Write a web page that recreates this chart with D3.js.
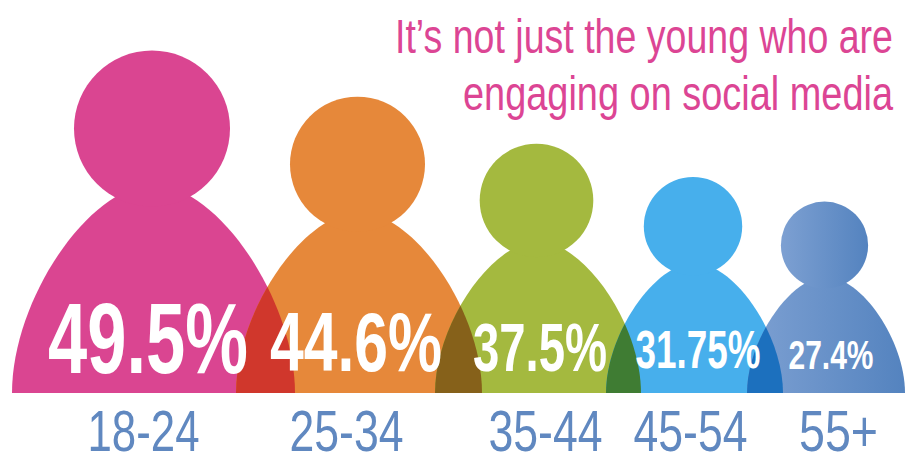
<!DOCTYPE html>
<html>
<head>
<meta charset="utf-8">
<script src="https://cdn.jsdelivr.net/npm/d3@7"></script>
<style>
  html, body { margin: 0; padding: 0; background: #fff; overflow: hidden; }
  text { font-family: "Liberation Sans Narrow", "Liberation Sans", sans-serif; }
</style>
</head>
<body>
<script>
// values
const ages = ["18-24", "25-34", "35-44", "45-54", "55+"];
const shares = [49.5, 44.6, 37.5, 31.75, 27.4];
const colors = ["#da4591", "#e6883a", "#a4b93f", "#47afec", "url(#steel)"];
const overlapColors = ["#d0372c", "#86611a", "#3f7c33", "#1c70be"];
const titleLines = ["It\u2019s not just the young who are", "engaging on social media"];

const w = 906;
const h = 462;
const baseline = 393;

// the figures are not evenly spaced, so the scales are measured per figure
const xPerson = d3.scaleOrdinal(ages, [153.5, 359, 538, 694.5, 826]);
const xTick = d3.scaleOrdinal(ages, [143, 346, 545, 690, 838]);
const xLabel = d3.scaleOrdinal(ages, [148, 356, 540, 698, 831]);
const headR = d3.scaleLinear().domain([27.4, 31.75, 37.5, 44.6, 49.5]).range([43.6, 49.2, 56.8, 67.5, 78]);
const bodyA = d3.scaleLinear().domain([27.4, 31.75, 37.5, 44.6, 49.5]).range([79, 88.5, 103, 123, 141.5]);
const labelCap = d3.scaleLinear().domain([27.4, 31.75, 37.5, 44.6, 49.5]).range([29, 38, 48, 58, 70]);
const labelW = d3.scaleOrdinal(ages, [200, 172, 134, 125, 85]);
const labelBase = d3.scaleOrdinal(ages, [373, 371, 371, 368, 369]);
const tickW = d3.scaleOrdinal(ages, [112, 114, 114, 114, 79]);

const people = ages.map((age, i) => ({age: age, share: shares[i], color: colors[i]}));

const svg = d3.select("body").append("svg")
  .attr("width", w)
  .attr("height", h)
  .style("display", "block");

const defs = svg.append("defs");
const grad = defs.append("linearGradient").attr("id", "steel");
grad.append("stop").attr("offset", "0%").attr("stop-color", "#7da0d2");
grad.append("stop").attr("offset", "100%").attr("stop-color", "#5483bf");

// dome of a figure, built from its half width
function bodyPath(d) {
  const cx = xPerson(d.age);
  const a = bodyA(d.share);
  const b = a * 1.47;
  const p = d3.path();
  p.moveTo(cx - a, baseline);
  p.bezierCurveTo(cx - a, baseline - 0.45 * b, cx - 0.45 * a, baseline - b, cx, baseline - b);
  p.bezierCurveTo(cx + 0.45 * a, baseline - b, cx + a, baseline - 0.45 * b, cx + a, baseline);
  p.closePath();
  return p.toString();
}

defs.selectAll("clipPath")
  .data(people.slice(1))
  .enter()
  .append("clipPath")
  .attr("id", (d, i) => "clip" + i)
  .append("path")
  .attr("d", bodyPath);

svg.selectAll(".body")
  .data(people)
  .enter()
  .append("path")
  .attr("class", "body")
  .attr("d", bodyPath)
  .attr("fill", d => d.color);

// darker part where two neighbours overlap
svg.selectAll(".overlap")
  .data(people.slice(0, -1))
  .enter()
  .append("path")
  .attr("class", "overlap")
  .attr("d", bodyPath)
  .attr("clip-path", (d, i) => "url(#clip" + i + ")")
  .attr("fill", (d, i) => overlapColors[i]);

svg.selectAll(".head")
  .data(people)
  .enter()
  .append("circle")
  .attr("class", "head")
  .attr("cx", d => xPerson(d.age) - 1.5)
  .attr("cy", d => baseline - 3.39 * headR(d.share))
  .attr("r", d => headR(d.share))
  .attr("fill", d => d.color);

svg.selectAll(".share")
  .data(people)
  .enter()
  .append("text")
  .attr("class", "share")
  .attr("x", d => xLabel(d.age))
  .attr("y", d => labelBase(d.age))
  .attr("text-anchor", "middle")
  .attr("font-weight", "bold")
  .attr("font-size", d => labelCap(d.share) / 0.7)
  .attr("textLength", d => labelW(d.age))
  .attr("lengthAdjust", "spacingAndGlyphs")
  .attr("fill", "#fff")
  .text(d => d.share + "%");

// age bands
const xAxis = d3.axisBottom(xTick).tickSize(0);
const axisG = svg.append("g")
  .attr("transform", "translate(0," + 451 + ")")
  .call(xAxis);
axisG.select(".domain").remove();
axisG.selectAll("text")
  .attr("y", 0)
  .attr("dy", 0)
  .attr("font-family", null)
  .attr("font-size", 57)
  .attr("textLength", d => tickW(d))
  .attr("lengthAdjust", "spacingAndGlyphs")
  .attr("fill", "#6088c0");

// title
svg.selectAll(".title")
  .data(titleLines)
  .enter()
  .append("text")
  .attr("class", "title")
  .attr("x", 893)
  .attr("y", (d, i) => 53 + i * 57)
  .attr("text-anchor", "end")
  .attr("font-size", 49)
  .attr("textLength", (d, i) => i == 0 ? 498 : 430)
  .attr("lengthAdjust", "spacingAndGlyphs")
  .attr("fill", "#dc4594")
  .text(d => d);
</script>
</body>
</html>
